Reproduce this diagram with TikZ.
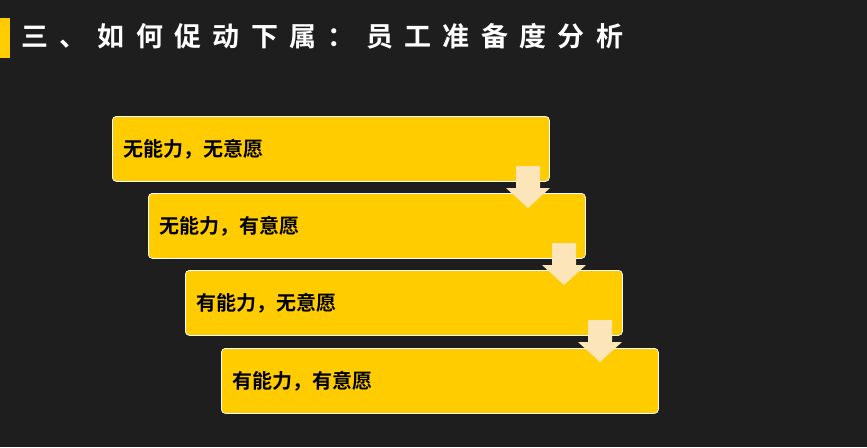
\documentclass[tikz,border=0pt]{standalone}
\usepackage{fontspec}
\newfontfamily\cjk{Noto Sans CJK SC}[BoldFont={Noto Sans CJK SC Bold}]
\definecolor{bg}{HTML}{1E1E1E}
\definecolor{gold}{HTML}{FFCC00}
\definecolor{cream}{HTML}{FCE5B8}
\begin{document}
\begin{tikzpicture}[x=1pt,y=-1pt,
  stage/.style={draw=white,line width=0.8pt,fill=gold,rounded corners=4pt,minimum width=437pt,minimum height=65pt,anchor=north west,inner sep=0pt},
  lbl/.style={font=\cjk\bfseries\fontsize{20}{24}\selectfont,anchor=west,text=black},
  darrow/.style={fill=cream,draw=none}]
\fill[bg] (0,0) rectangle (867,447);
\useasboundingbox (0,0) rectangle (867,447);
\fill[gold] (0,18) rectangle (10,58);
\node[anchor=west,text=white,inner sep=0pt,font=\cjk\bfseries\fontsize{27}{30}\selectfont\addfontfeature{LetterSpace=42}] (title) at (21,36) {三、如何促动下属：员工准备度分析};
\foreach \i/\x/\y/\t in {1/112/116/无能力，无意愿,2/148/193/无能力，有意愿,3/185/270/有能力，无意愿,4/221/348/有能力，有意愿}{
  \node[stage] (b\i) at (\x,\y) {};
  \node[lbl] (t\i) at ([xshift=8pt]b\i.west) {\t};
}
\foreach \cx/\ty in {528/166,564/243,600/320}{
  \fill[darrow] (\cx-12,\ty) -- (\cx+12,\ty) -- (\cx+12,\ty+22) -- (\cx+22,\ty+22) -- (\cx,\ty+42) -- (\cx-22,\ty+22) -- (\cx-12,\ty+22) -- cycle;
}
\end{tikzpicture}
\end{document}
